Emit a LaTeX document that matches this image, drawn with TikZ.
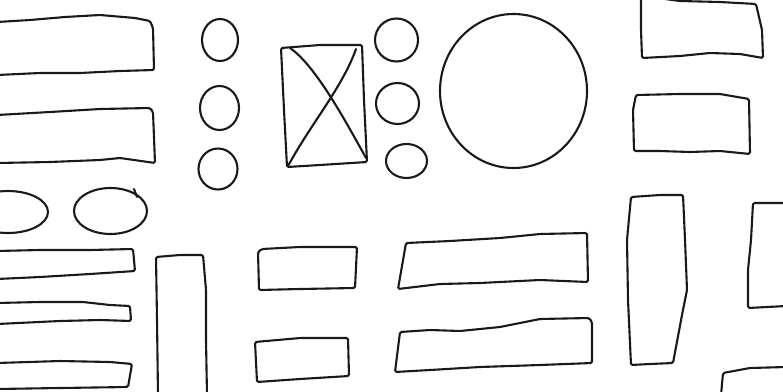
\documentclass[tikz,border=0pt]{standalone}
\begin{document}
\begin{tikzpicture}[x=1pt,y=-1pt,
  sk/.style={draw=black!90, line width=2.1pt, line join=round, line cap=round, rounded corners=1.5pt}]
\useasboundingbox (0,0) rectangle (783,391);
\clip (0,0) rectangle (783,391);
% top-left rectangles
\draw[sk] (-3,22) -- (30,20) -- (65,17) -- (100,15) -- (135,18) -- (150,21) -- (153,28) -- (154,70) -- (120,71) -- (80,73) -- (40,73) -- (-3,75);
\draw[sk] (-3,115) -- (50,112) -- (100,109) -- (150,108) -- (153,112) -- (155,163) -- (120,158) -- (100,160) -- (50,162) -- (-3,163);
% small circles left
\draw[sk] (220,40) ellipse [x radius=18pt, y radius=21pt];
\draw[sk] (219.5,108) ellipse [x radius=19.5pt, y radius=22pt];
\draw[sk] (218,169) ellipse [x radius=19.5pt, y radius=20.5pt];
% box with X
\draw[sk] (281,48) -- (320,45) -- (362,45) -- (364,100) -- (367,162) -- (320,165) -- (287,167) -- (284,110) -- cycle;
\draw[sk] (290,48) .. controls (315,65) and (345,120) .. (366,158);
\draw[sk] (356,49) .. controls (342,88) and (312,122) .. (288,166);
% small circles right
\draw[sk] (396.5,40) ellipse [x radius=21.5pt, y radius=21.5pt];
\draw[sk] (397.5,103.5) ellipse [x radius=21.5pt, y radius=20.5pt];
\draw[sk] (406.5,161) ellipse [x radius=20.5pt, y radius=17pt];
% big circle
\draw[sk] (513.5,91) ellipse [x radius=73.5pt, y radius=77pt];
% right rectangles top
\draw[sk] (641,-3) -- (641,30) -- (642,58) -- (680,56) -- (710,53) -- (740,54) -- (763,58) -- (762,30) -- (756,4) -- (720,2) -- (680,1) -- (650,-3);
\draw[sk] (636,95) -- (680,94) -- (720,94) -- (749,99) -- (750,154) -- (720,151) -- (690,152) -- (660,151) -- (634,151) -- (633,110) -- cycle;
% ellipses
\draw[sk] (8,212) ellipse [x radius=40pt, y radius=21pt];
\draw[sk] (110.5,211) ellipse [x radius=36.5pt, y radius=23pt];
\draw[sk] (134,189) -- (137,197);
% lower-left long bars
\draw[sk] (-3,251) -- (40,250) -- (90,250) -- (133,249) -- (135,271) -- (90,274) -- (40,277) -- (-3,279);
\draw[sk] (-3,303) -- (40,302) -- (83,302) -- (110,305) -- (130,306) -- (131,321) -- (100,320) -- (60,321) -- (-3,324);
\draw[sk] (-3,363) -- (60,361) -- (110,362) -- (132,364) -- (128,387) -- (60,388) -- (-3,389);
% tall rectangle lower-left
\draw[sk] (158,395) -- (157,320) -- (156,257) -- (180,255) -- (203,255) -- (206,290) -- (206,340) -- (207,395);
% middle small rectangles
\draw[sk] (258,252) -- (262,249) -- (300,247) -- (357,247) -- (355,288) -- (300,289) -- (259,290) -- cycle;
\draw[sk] (255,342) -- (300,338) -- (348,338) -- (349,376) -- (300,379) -- (257,382) -- cycle;
% middle long rectangles
\draw[sk] (406,243) -- (450,241) -- (500,238) -- (540,234) -- (587,233) -- (588,282) -- (540,280) -- (480,283) -- (440,284) -- (398,289) -- cycle;
\draw[sk] (400,332) -- (430,330) -- (460,331) -- (500,327) -- (540,319) -- (589,318) -- (592,322) -- (592,363) -- (540,365) -- (480,367) -- (430,370) -- (395,372) -- cycle;
% tall rectangle right
\draw[sk] (631,197) -- (660,195) -- (683,195) -- (685,240) -- (687,290) -- (682,315) -- (673,363) -- (650,364) -- (631,365) -- (628,300) -- (627,240) -- cycle;
% right-edge rectangles
\draw[sk] (786,203) -- (753,203) -- (751,240) -- (748,270) -- (748,308) -- (786,306);
\draw[sk] (786,367) -- (750,368) -- (723,373) -- (721,395);
\end{tikzpicture}
\end{document}
